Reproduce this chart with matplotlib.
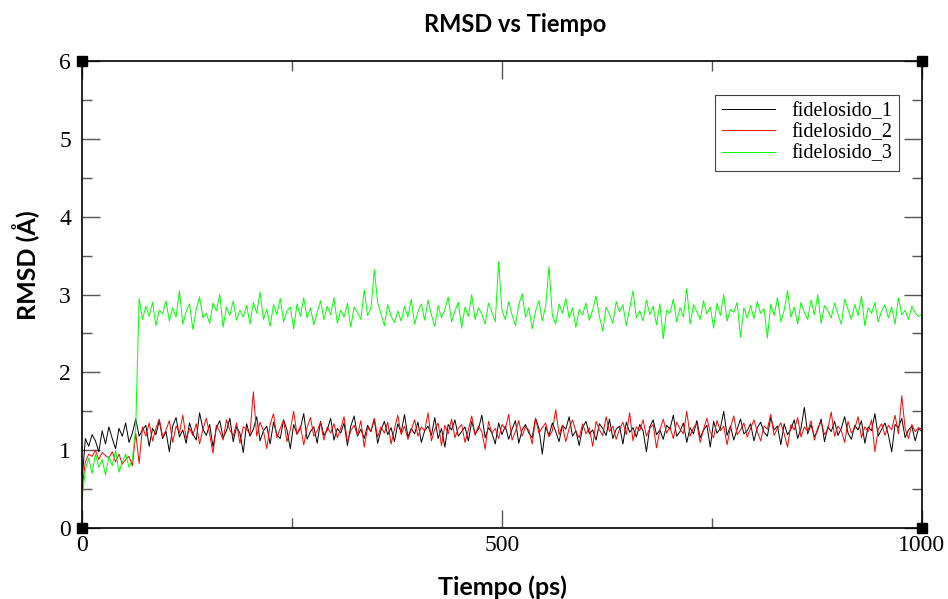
import matplotlib.pyplot as plt
import numpy as np
from matplotlib.ticker import MultipleLocator

# time axis, one sample every 4 ps
tiempo = np.arange(0, 1001, 4)

# RMSD values in hundredths of an Angstrom
fidelosido_1 = """
60 115 105 120 112 98 125 108 130 115 102 128 118 135 110 122 140 118 126 132 105 128 120 138 115
124 98 131 142 117 126 109 135 121 113 148 127 119 133 104 129 138 116 125 141 111 130 122 97 134
118 127 143 112 125 131 108 136 120 115 139 126 102 133 121 128 147 114 124 130 109 137 119 126 141
113 128 122 135 106 131 144 118 127 115 132 124 140 109 126 137 120 129 111 134 123 146 117 128 121
136 110 125 131 119 142 115 128 104 133 126 139 118 124 130 112 137 121 127 145 116 129 122 108 135
120 131 114 127 138 109 126 133 122 116 141 128 95 130 119 135 124 111 132 127 143 118 125 106 129
137 121 126 113 134 128 119 140 115 127 131 108 136 123 129 117 133 125 98 130 139 120 126 114 132
127 145 118 124 135 110 129 121 138 116 126 132 104 137 122 128 150 119 131 113 127 140 121 125 134
112 129 136 123 118 142 126 131 107 134 120 127 139 115 128 155 121 133 117 126 140 111 130 124 137
119 128 143 122 114 132 126 138 109 130 125 147 118 127 135 120 98 133 129 141 116 126 131 112 128
124
"""

fidelosido_2 = """
50 85 95 92 100 88 97 93 90 98 85 95 82 88 92 80 122 83 130 118 135 112 128 140 117
126 138 110 131 122 145 115 128 119 134 108 127 141 120 96 132 124 113 139 126 118 135 109 130 127
121 175 118 136 125 102 133 147 116 128 139 111 126 150 120 131 107 129 142 118 125 136 113 130 122
134 116 128 143 110 125 132 119 138 104 129 124 141 117 130 122 136 108 127 145 120 131 114 126 139
118 130 125 148 112 127 135 106 132 121 140 116 128 133 110 126 144 119 131 124 101 137 122 128 115
133 127 146 113 124 138 118 130 126 108 141 122 129 135 117 125 152 120 132 111 128 139 124 116 134
121 129 105 137 126 119 143 124 131 114 127 136 120 148 112 130 125 139 118 128 133 103 126 140 122
130 115 136 127 121 150 118 129 134 110 127 141 123 116 138 125 131 107 129 144 120 126 135 117 128
139 124 112 131 127 146 119 128 135 121 104 133 126 142 117 130 124 138 113 129 136 120 127 149 118
131 125 110 137 122 128 143 116 130 124 139 98 127 134 119 132 126 145 121 170 128 115 133 124 129
127
"""

fidelosido_3 = """
35 75 90 70 95 78 88 68 92 80 100 72 85 95 78 88 130 295 268 285 272 290 260 280 275
292 266 283 271 305 262 278 288 255 281 297 270 276 263 289 279 300 258 284 273 292 267 280 271 286
262 290 276 303 268 281 259 287 274 295 265 279 284 256 288 272 296 270 283 261 277 292 268 285 274
296 263 280 271 289 258 284 277 268 306 273 282 332 290 275 260 287 272 264 279 266 285 271 294 262
278 288 267 293 274 259 286 270 281 297 265 279 290 257 284 272 300 268 283 275 262 289 277 265 342
280 268 291 274 260 287 301 271 283 256 279 292 266 285 336 273 262 288 276 295 270 283 258 281 274
289 267 280 298 272 253 284 275 263 291 278 287 260 282 305 270 279 266 293 274 285 261 288 243 280
276 294 265 283 271 308 262 287 278 268 292 275 284 257 289 273 300 266 281 277 290 245 283 270 286
269 291 276 282 244 288 273 296 265 280 305 271 284 262 290 277 268 293 274 300 263 286 279 270 289
275 262 294 281 268 287 273 298 260 283 276 290 265 279 287 270 284 262 296 274 280 268 285 276 272
275
"""

nombres = ["fidelosido_1", "fidelosido_2", "fidelosido_3"]
colores = ["black", "red", "#00ff00"]
series = [np.array(s.split(), dtype=float) / 100 for s in (fidelosido_1, fidelosido_2, fidelosido_3)]

fig = plt.figure(figsize=(9.48, 5.99), dpi=100)
ax = fig.add_axes([0.0865, 0.1185, 0.886, 0.7795])

for y, c, n in zip(series, colores, nombres):
    ax.plot(tiempo, y, color=c, lw=0.7, label=n)

ax.set_xlim(0, 1000)
ax.set_ylim(0, 6)
ax.xaxis.set_major_locator(MultipleLocator(500))
ax.xaxis.set_minor_locator(MultipleLocator(250))
ax.yaxis.set_major_locator(MultipleLocator(1))
ax.yaxis.set_minor_locator(MultipleLocator(0.5))
ax.tick_params(which="both", direction="in", top=True, right=True, color="#555555", width=1)
ax.tick_params(which="major", length=13)
ax.tick_params(which="minor", length=7)
ax.tick_params(axis="x", which="major", pad=5)
ax.tick_params(axis="y", which="major", pad=8)
for lab in ax.get_xticklabels() + ax.get_yticklabels():
    lab.set_family("Liberation Serif")
    lab.set_fontsize(17)
for sp in ax.spines.values():
    sp.set_linewidth(1.2)

# black squares at the corners, as grace draws them
ax.plot([0, 1, 0, 1], [0, 0, 1, 1], "s", color="black", ms=7,
        transform=ax.transAxes, clip_on=False)

leg = ax.legend(loc="upper right", bbox_to_anchor=(0.9726, 0.927),
                borderaxespad=0,
                prop={"family": "Liberation Serif", "size": 14.5},
                fancybox=False, edgecolor="#444444", framealpha=1,
                handlelength=2.6, borderpad=0.35, labelspacing=0.1)
leg.get_frame().set_linewidth(0.8)

fig.suptitle("RMSD vs Tiempo", x=0.543, y=0.978, fontsize=17,
             fontweight="bold", family="Lato")
ax.set_xlabel("Tiempo (ps)", fontsize=18, fontweight="bold", family="Lato", labelpad=14)
ax.set_ylabel("RMSD (Å)", fontsize=18, fontweight="bold", family="Lato")
ax.yaxis.set_label_coords(-0.05, 0.563)

fig.savefig("out.png", dpi=100)
